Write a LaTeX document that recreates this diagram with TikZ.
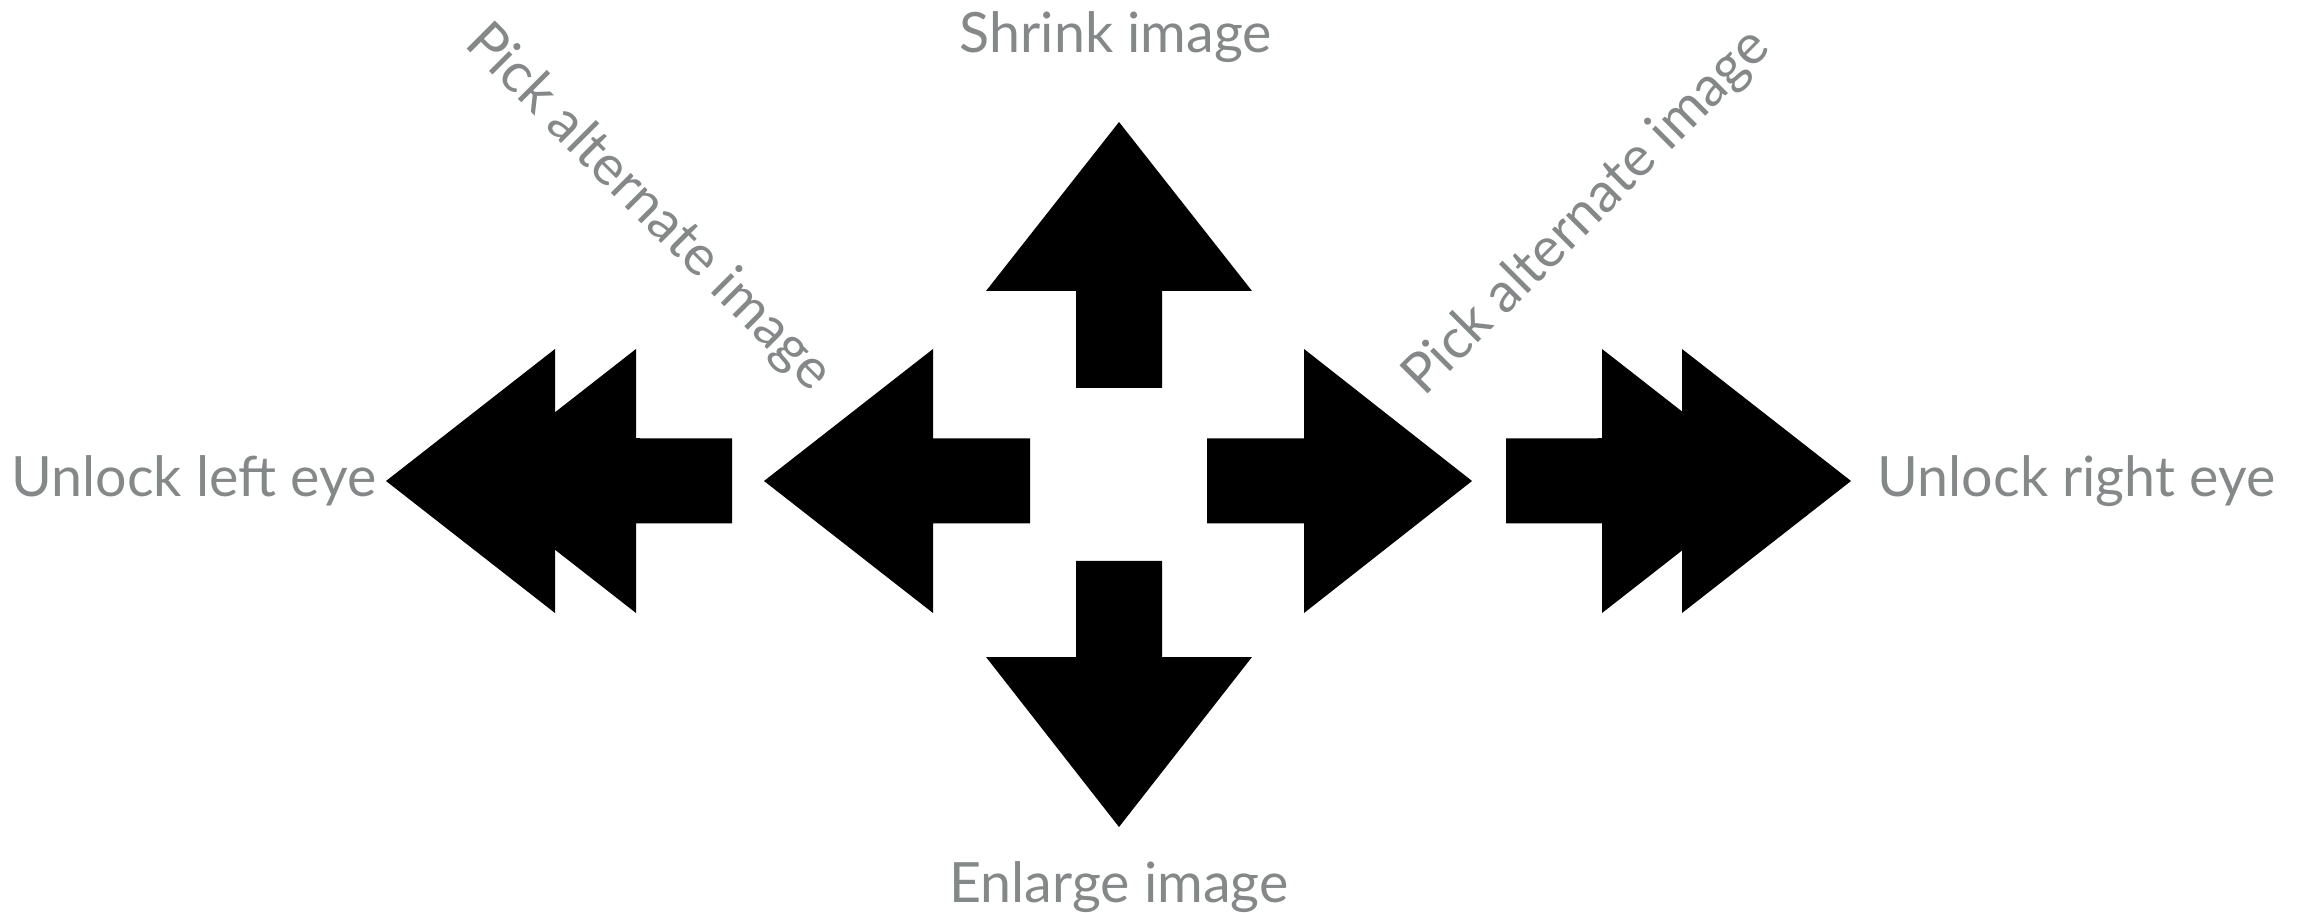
\documentclass[tikz,border=0pt]{standalone}
\usepackage{fontspec}
\setmainfont{Lato}
\definecolor{labelgray}{RGB}{132,136,136}
\tikzset{
  lbl/.style={text=labelgray, inner sep=0pt, font=\fontsize{15.8}{18}\selectfont},
  shape fill/.style={fill=black, draw=none}
}
\begin{document}
\begin{tikzpicture}[x=0.01cm, y=-0.01cm]
\useasboundingbox (0,0) rectangle (2313,913);
% up arrow (shrink)
\fill[shape fill] (1119,122) -- (1252,291) -- (1162,291) -- (1162,388) -- (1076,388) -- (1076,291) -- (986,291) -- cycle;
% down arrow (enlarge)
\fill[shape fill] (1119,827) -- (1252,657) -- (1162,657) -- (1162,561) -- (1076,561) -- (1076,657) -- (986,657) -- cycle;
% left single arrow
\fill[shape fill] (764,481) -- (933,349) -- (933,438.5) -- (1030,438.5) -- (1030,523.5) -- (933,523.5) -- (933,613) -- cycle;
% right single arrow
\fill[shape fill] (1472,481) -- (1304,349) -- (1304,438.5) -- (1207,438.5) -- (1207,523.5) -- (1304,523.5) -- (1304,613) -- cycle;
% left double arrow
\fill[shape fill] (386,481) -- (555,349) -- (555,613) -- cycle;
\fill[shape fill] (467,481) -- (636,349) -- (636,438.5) -- (732,438.5) -- (732,523.5) -- (636,523.5) -- (636,613) -- cycle;
\fill[shape fill] (540,438.5) rectangle (640,523.5);
% right double arrow
\fill[shape fill] (1851,481) -- (1682,349) -- (1682,613) -- cycle;
\fill[shape fill] (1771,481) -- (1602,349) -- (1602,438.5) -- (1506,438.5) -- (1506,523.5) -- (1602,523.5) -- (1602,613) -- cycle;
\fill[shape fill] (1598,438.5) rectangle (1700,523.5);
% labels
\node[lbl, anchor=base] (shrink) at (1116,53) {Shrink image};
\node[lbl, anchor=base] (enlarge) at (1119,902) {Enlarge image};
\node[lbl, anchor=base east] (uleft) at (377,497) {Unlock left eye};
\node[lbl, anchor=base west] (uright) at (1877,497) {Unlock right eye};
\node[lbl, rotate=-45] (pickl) at (648,208) {Pick alternate image};
\node[lbl, rotate=45] (pickr) at (1587,213) {Pick alternate image};
\end{tikzpicture}
\end{document}
